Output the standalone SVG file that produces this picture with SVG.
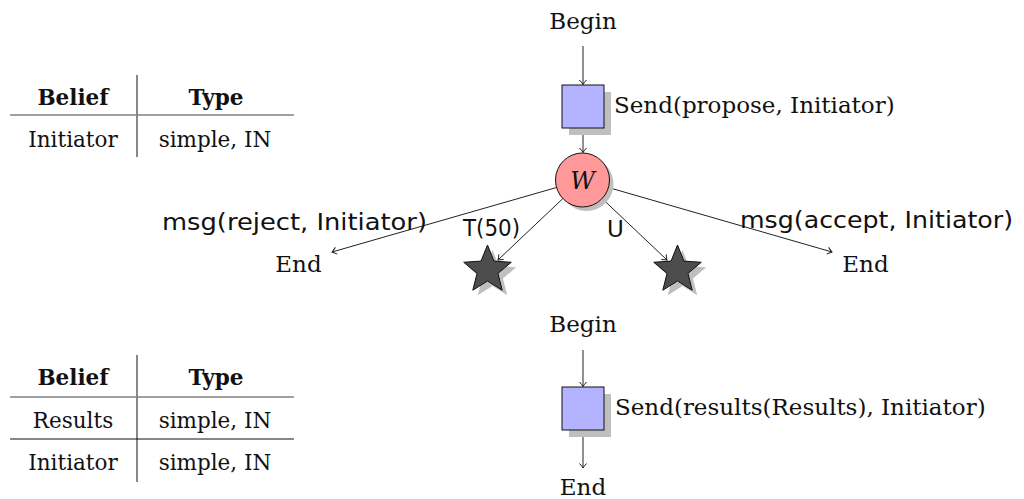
<svg xmlns="http://www.w3.org/2000/svg" width="1024" height="499" viewBox="0 0 1024 499">
<style>
.t{font-family:"DejaVu Serif","Liberation Serif",serif;font-size:23px;fill:#111}
.tb{font-family:"DejaVu Serif","Liberation Serif",serif;font-size:21.5px;fill:#111}
.hb{font-family:"DejaVu Serif","Liberation Serif",serif;font-size:21.5px;font-weight:bold;fill:#111}
.m{font-family:"DejaVu Sans","Noto Sans",sans-serif;font-size:23px;fill:#111}
.edge{stroke:#222;stroke-width:1;fill:none}
.sq{fill:#b3b3ff;stroke:#111;stroke-width:1}
.sh{fill:#bfbfbf}
.st{fill:#4d4d4d;stroke:#111;stroke-width:1}
.rule{stroke:#111;stroke-width:1}
.hrule{stroke:#808080;stroke-width:1.6}
</style>
<defs>
<marker id="arr" markerUnits="userSpaceOnUse" markerWidth="12" markerHeight="12" refX="0" refY="0" viewBox="-6 -6 12 12" orient="auto">
<path d="M-4.5,-3.5 Q-1.2,-0.6 0,0 Q-1.2,0.6 -4.5,3.5" fill="none" stroke="#222" stroke-width="1"/>
</marker>
<path id="star" d="M0,-25 L6.47,-8.9 L23.78,-7.73 L10.46,3.4 L14.69,20.23 L0,11 L-14.69,20.23 L-10.46,3.4 L-23.78,-7.73 L-6.47,-8.9 Z"/>
</defs>

<g id="table1">
<line class="rule" x1="137" y1="75" x2="137" y2="157"/>
<line class="hrule" x1="10" y1="115" x2="294" y2="115"/>
<text class="hb" x="73" y="105" text-anchor="middle">Belief</text>
<text class="hb" x="216" y="105" text-anchor="middle">Type</text>
<text class="tb" x="73" y="147" text-anchor="middle">Initiator</text>
<text class="tb" x="215" y="147" text-anchor="middle">simple, IN</text>
</g>

<g id="table2">
<line class="rule" x1="137" y1="355" x2="137" y2="482"/>
<line class="hrule" x1="10" y1="397" x2="294" y2="397"/>
<line class="rule" x1="10" y1="439" x2="294" y2="439"/>
<text class="hb" x="73" y="385" text-anchor="middle">Belief</text>
<text class="hb" x="216" y="385" text-anchor="middle">Type</text>
<text class="tb" x="73" y="428" text-anchor="middle">Results</text>
<text class="tb" x="215" y="428" text-anchor="middle">simple, IN</text>
<text class="tb" x="73" y="470" text-anchor="middle">Initiator</text>
<text class="tb" x="215" y="470" text-anchor="middle">simple, IN</text>
</g>

<g id="connectors">
<line class="edge" x1="583" y1="46" x2="583" y2="84.5" marker-end="url(#arr)"/>
<line class="edge" x1="583" y1="128" x2="583" y2="152.5" marker-end="url(#arr)"/>
<line class="edge" x1="556.5" y1="187.5" x2="332" y2="252" marker-end="url(#arr)"/>
<line class="edge" x1="562.9" y1="198.5" x2="498" y2="260" marker-end="url(#arr)"/>
<line class="edge" x1="602.1" y1="198.5" x2="667" y2="260" marker-end="url(#arr)"/>
<line class="edge" x1="608.4" y1="187.5" x2="832" y2="252" marker-end="url(#arr)"/>
<line class="edge" x1="583" y1="350" x2="583" y2="386.5" marker-end="url(#arr)"/>
<line class="edge" x1="583" y1="430" x2="583" y2="468" marker-end="url(#arr)"/>
<text class="m" x="162" y="230" textLength="265" lengthAdjust="spacingAndGlyphs">msg(reject, Initiator)</text>
<text class="m" x="740" y="228" textLength="273" lengthAdjust="spacingAndGlyphs">msg(accept, Initiator)</text>
<text class="m" x="463" y="236" textLength="57" lengthAdjust="spacingAndGlyphs">T(50)</text>
<text class="m" x="607" y="237">U</text>
</g>

<g id="begin1"><text class="t" x="583" y="29" text-anchor="middle">Begin</text></g>

<g id="send1">
<rect class="sh" x="569" y="92" width="42" height="43"/>
<rect class="sq" x="562" y="85" width="42" height="43"/>
<text class="t" x="614" y="113">Send(propose, Initiator)</text>
</g>

<g id="wait">
<circle class="sh" cx="586.5" cy="184" r="27"/>
<circle cx="582.5" cy="180" r="27" fill="#ff9999" stroke="#111" stroke-width="1"/>
<text x="582.5" y="189" text-anchor="middle" font-family="DejaVu Serif, serif" font-style="italic" font-size="24" fill="#111">W</text>
</g>

<g id="end1"><text class="t" x="298.5" y="272" text-anchor="middle">End</text></g>
<g id="end2"><text class="t" x="865.5" y="272" text-anchor="middle">End</text></g>

<g id="star1">
<use href="#star" class="sh" x="492.5" y="275"/>
<use href="#star" class="st" x="487.5" y="270"/>
</g>
<g id="star2">
<use href="#star" class="sh" x="682.5" y="275"/>
<use href="#star" class="st" x="677.5" y="270"/>
</g>

<g id="begin2"><text class="t" x="583" y="332" text-anchor="middle">Begin</text></g>

<g id="send2">
<rect class="sh" x="569" y="394" width="42" height="43"/>
<rect class="sq" x="562" y="387" width="42" height="43"/>
<text class="t" x="615" y="415">Send(results(Results), Initiator)</text>
</g>

<g id="end3"><text class="t" x="583" y="495" text-anchor="middle">End</text></g>
</svg>
